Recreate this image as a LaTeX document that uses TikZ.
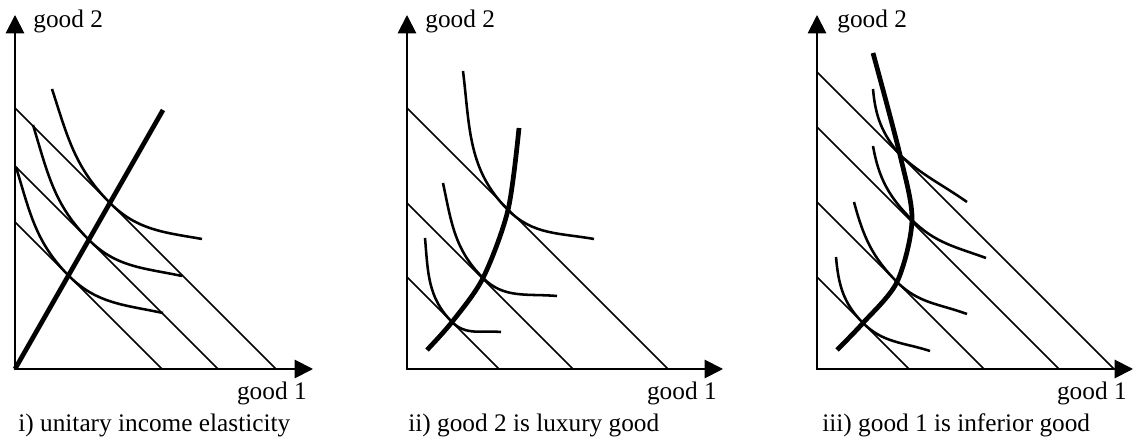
\documentclass[tikz,border=0pt]{standalone}
\usepackage{fontspec}
\setmainfont{Liberation Serif}
\usetikzlibrary{arrows.meta}
\tikzset{
  axis/.style={line width=1.1pt, {Triangle[length=10.5pt,width=10.5pt]}-{Triangle[length=10.5pt,width=10.5pt]}},
  budget/.style={line width=0.9pt},
  indiff/.style={line width=1.45pt},
  iep/.style={line width=2.7pt},
  lbl/.style={font=\fontsize{14.4}{17}\selectfont, inner sep=0pt}
}
\begin{document}
\begin{tikzpicture}[x=0.02cm, y=0.02cm]
\useasboundingbox (0,0) rectangle (1143,439);
% i) unitary income elasticity
\begin{scope}[shift={(15,70)}]
  \coordinate (oi) at (0,0);
  \coordinate (yi) at (0,354);
  \coordinate (xi) at (298,0);
  \draw[axis] (yi) -- (oi) -- (xi);
  \node[lbl, anchor=base west] (goodtwoi) at (18,341) {good 2};
  \node[lbl, anchor=base east] (goodonei) at (292,-31) {good 1};
  \node[lbl, anchor=base west] (capi) at (3,-63) {i) unitary income elasticity};
  \foreach \m in {147,203,261} \draw[budget] (0,\m) -- (\m,0);
  \draw[indiff] (37,280) to[out=-72,in=135] (95,166) to[out=-45,in=170] (187,130);
  \draw[indiff] (18,244) to[out=-73,in=135] (74,129) to[out=-45,in=168] (167,93);
  \draw[indiff] (1,202) to[out=-73,in=135] (54,93) to[out=-45,in=168] (148,56);
  \coordinate (ei) at (148,259);
  \draw[iep] (oi) -- (ei);
\end{scope}
% ii) good 2 is luxury good
\begin{scope}[shift={(407,70)}]
  \coordinate (oii) at (0,0);
  \coordinate (yii) at (0,354);
  \coordinate (xii) at (316,0);
  \draw[axis] (yii) -- (oii) -- (xii);
  \node[lbl, anchor=base west] (goodtwoii) at (18,341) {good 2};
  \node[lbl, anchor=base east] (goodoneii) at (310,-31) {good 1};
  \node[lbl, anchor=base west] (capii) at (1,-63) {ii) good 2 is luxury good};
  \foreach \m in {92,166,261} \draw[budget] (0,\m) -- (\m,0);
  \draw[indiff] (56,298) to[out=-83,in=135] (101,159) to[out=-45,in=170] (187,130);
  \draw[indiff] (36,186) to[out=-78,in=135] (76,91) to[out=-45,in=175] (150,73);
  \draw[indiff] (18,131) to[out=-85,in=135] (45,47) to[out=-45,in=175] (94,37);
  \draw[iep] plot[smooth] coordinates {(20,19) (45,47) (76,91) (101,159) (112,241)};
\end{scope}
% iii) good 1 is inferior good
\begin{scope}[shift={(817,70)}]
  \coordinate (oiii) at (0,0);
  \coordinate (yiii) at (0,354);
  \coordinate (xiii) at (316,0);
  \draw[axis] (yiii) -- (oiii) -- (xiii);
  \node[lbl, anchor=base west] (goodtwoiii) at (20,341) {good 2};
  \node[lbl, anchor=base east] (goodoneiii) at (310,-31) {good 1};
  \node[lbl, anchor=base west] (capiii) at (5,-63) {iii) good 1 is inferior good};
  \foreach \m in {92,167,242,297} \draw[budget] (0,\m) -- (\m,0);
  \draw[indiff] (56,280) to[out=-85,in=130] (83,214) to[out=-42,in=145] (150,167);
  \draw[indiff] (56,223) to[out=-80,in=135] (95,149) to[out=-45,in=160] (169,111);
  \draw[indiff] (37,167) to[out=-75,in=135] (80,87) to[out=-45,in=160] (150,55);
  \draw[indiff] (19,112) to[out=-85,in=135] (46,46) to[out=-45,in=162] (113,18);
  \draw[iep] plot[smooth] coordinates {(20,19) (46,46) (80,87) (95,149) (83,214) (56,316)};
\end{scope}
\end{tikzpicture}
\end{document}
